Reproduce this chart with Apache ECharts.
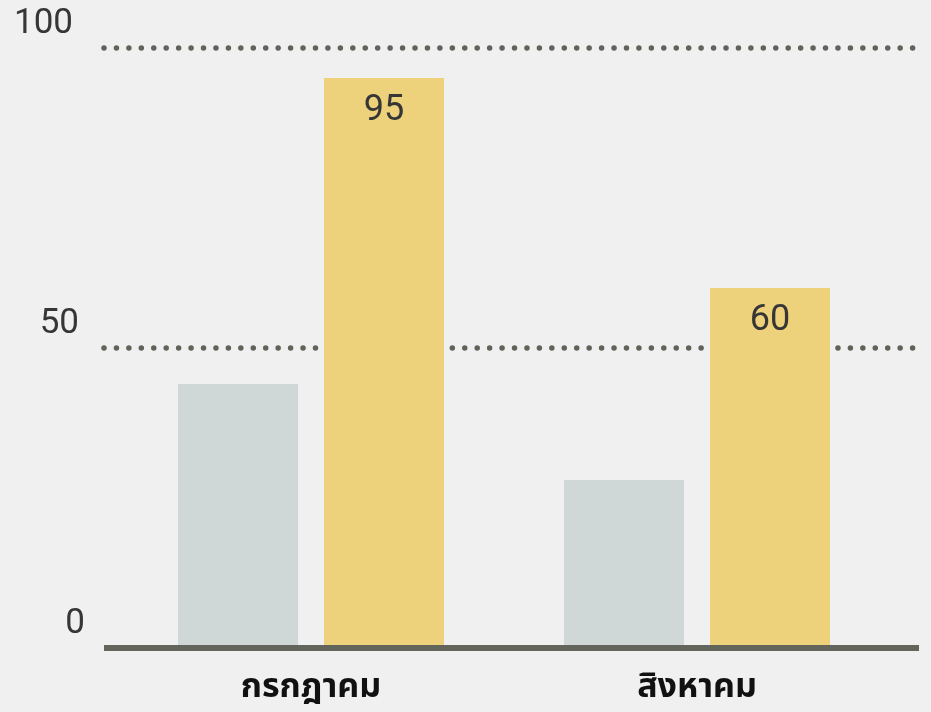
<!DOCTYPE html>
<html>
<head>
<meta charset="utf-8">
<script src="https://cdn.jsdelivr.net/npm/echarts@6/dist/echarts.min.js"></script>
<style>
  html, body { margin: 0; padding: 0; background: #f0f0f0; }
  #chart { width: 931px; height: 712px; }
</style>
</head>
<body>
<div id="chart"></div>
<script>
// Months on the category axis
const months = ['กรกฎาคม', 'สิงหาคม'];
// Two series per month
const seriesGrey = [44, 28];
const seriesYellow = [95, 60];
// Value axis ticks
const yTicks = [0, 50, 100];

const numFont = "'Roboto', 'Liberation Sans', sans-serif";
const thaiFont = "'Noto Sans Thai', 'Noto Sans', 'DejaVu Sans', sans-serif";
const ink = '#363636';

const chart = echarts.init(document.getElementById('chart'));

// per-tick horizontal nudges for the value labels
const tickRich = {};
yTicks.forEach(function (t) {
  const pr = t === 100 ? 12 : (t === 50 ? 6 : 0);
  tickRich['t' + t] = {
    fontFamily: numFont, fontSize: 35, fontWeight: 'normal', color: ink,
    padding: [0, pr, 0, 0]
  };
});

chart.setOption({
  backgroundColor: '#f0f0f0',
  animation: false,
  grid: [
    // bars
    { left: 118, right: 41, top: 48, bottom: 64 },
    // dotted guides and baseline, wider than the bar area
    { left: 104, right: 12, top: 48, bottom: 64 }
  ],
  xAxis: [
    {
      gridIndex: 0, type: 'category', data: months,
      axisLine: { show: false }, axisTick: { show: false },
      axisLabel: {
        margin: 25, color: '#111', fontSize: 34, fontWeight: 'bold',
        fontFamily: thaiFont
      }
    },
    {
      gridIndex: 1, type: 'value', min: 0, max: 1, position: 'bottom', z: 5,
      axisLine: { show: true, onZero: false, lineStyle: { color: '#63645c', width: 6, cap: 'butt' } },
      axisTick: { show: false }, axisLabel: { show: false }, splitLine: { show: false }
    }
  ],
  yAxis: [
    { gridIndex: 0, type: 'value', min: 0, max: 100, interval: 50, show: false },
    {
      gridIndex: 1, type: 'value', min: 0, max: 100, interval: 50,
      axisLine: { show: false }, axisTick: { show: false },
      axisLabel: {
        margin: 19, verticalAlign: 'middle', padding: [0, 0, 48, 0],
        formatter: function (v) { return '{t' + v + '|' + v + '}'; },
        rich: tickRich
      },
      splitLine: {
        show: true,
        showMinLine: false,
        lineStyle: { color: '#62625a', width: 5.5, type: [0, 12.44], cap: 'round' }
      }
    }
  ],
  series: [
    {
      type: 'bar', xAxisIndex: 0, yAxisIndex: 0, data: seriesGrey,
      barWidth: 120, barGap: '21.67%',
      itemStyle: { color: '#cfd8d7' }, z: 3
    },
    {
      type: 'bar', xAxisIndex: 0, yAxisIndex: 0, data: seriesYellow,
      barWidth: 120, barGap: '21.67%',
      itemStyle: { color: '#edd27b' }, z: 3,
      label: {
        show: true, position: 'insideTop', distance: 15,
        fontFamily: numFont, fontSize: 36, fontWeight: 'normal', color: ink
      }
    }
  ]
});
</script>
</body>
</html>
